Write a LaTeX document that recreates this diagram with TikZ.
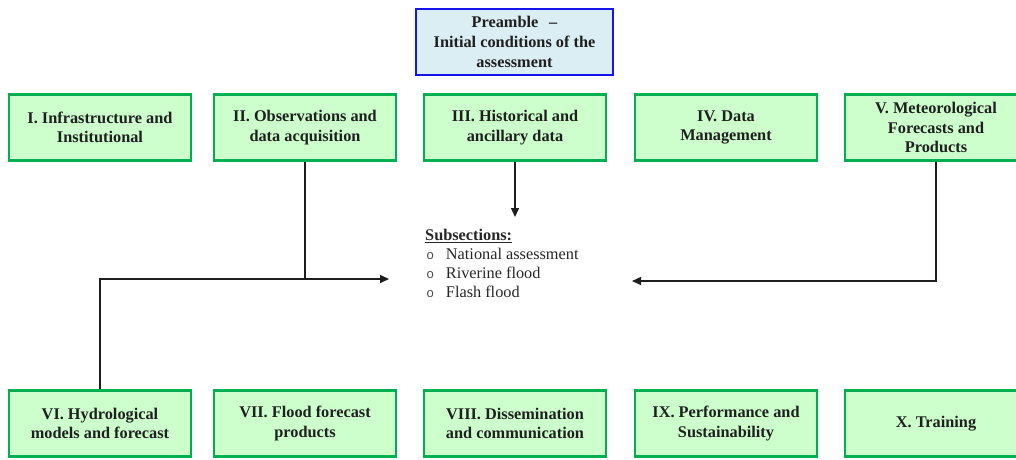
\documentclass[tikz,border=0pt]{standalone}
\usepackage{fontspec}
\setmainfont{Liberation Serif}
\newfontfamily\bulletfont{Liberation Sans}
\usetikzlibrary{arrows.meta}
\definecolor{boxgreen}{RGB}{0,176,80}
\definecolor{fillgreen}{RGB}{204,255,204}
\definecolor{boxblue}{RGB}{20,20,235}
\definecolor{fillblue}{RGB}{219,238,244}
\definecolor{linegray}{RGB}{30,30,30}
\tikzset{
  greenbox/.style={draw=boxgreen, fill=fillgreen, line width=2.6pt, minimum width=182pt, minimum height=66pt, align=center, inner sep=2pt,
    font=\bfseries\fontsize{16.3}{19.7}\selectfont, text=black!88},
  bluebox/.style={draw=boxblue, fill=fillblue, line width=2.6pt, minimum width=197pt, minimum height=66pt, align=center, inner sep=2pt,
    font=\bfseries\fontsize{16.3}{19.7}\selectfont, text=black!88},
  conn/.style={draw=linegray, line width=1.4pt},
  arr/.style={conn, -{Triangle[length=9pt,width=8pt]}},
}
\newcommand{\subbul}{\hspace*{1.5pt}{\bulletfont\fontsize{13}{13}\selectfont\color{black!70}o}\hspace{12pt}}
\begin{document}
\begin{tikzpicture}[x=1pt,y=-1pt]
\useasboundingbox (0,0) rectangle (1016,459);
\clip (0,0) rectangle (1016,459);
\node[bluebox] (pre) at (514.5,42) {Preamble \ \,--\\Initial conditions of the\\assessment};
\node[greenbox] (I) at (100,127.5) {I. Infrastructure and\\Institutional};
\node[greenbox] (II) at (305,127.5) {II. Observations and\\data acquisition};
\node[greenbox] (III) at (515,127.5) {III. Historical and\\ancillary data};
\node[greenbox] (IV) at (726,127.5) {IV. Data\\Management};
\node[greenbox] (V) at (936,127.5) {V. Meteorological\\Forecasts and\\Products};
\node[greenbox] (VI) at (100,423.5) {VI. Hydrological\\models and forecast};
\node[greenbox] (VII) at (305,423.5) {VII. Flood forecast\\products};
\node[greenbox] (VIII) at (515,423.5) {VIII. Dissemination\\and communication};
\node[greenbox] (IX) at (726,423.5) {IX. Performance and\\Sustainability};
\node[greenbox] (X) at (936,423.5) {X. Training};
\node[anchor=north west, align=left, inner sep=0pt, text=black!85,
  font=\fontsize{16.3}{19}\selectfont] (sub) at (425,229)
  {\textbf{\underline{Subsections:}}\\
   \subbul National assessment\\
   \subbul Riverine flood\\
   \subbul Flash flood};
\coordinate (t3) at (515,217);
\coordinate (jl) at (305,279);
\coordinate (tl) at (389,279);
\coordinate (tr) at (632,281);
\draw[arr] (III.south) -- (t3);
\draw[conn] (II.south) -- (jl);
\draw[arr] (VI.north) |- (tl);
\draw[arr] (V.south) |- (tr);
\end{tikzpicture}
\end{document}
